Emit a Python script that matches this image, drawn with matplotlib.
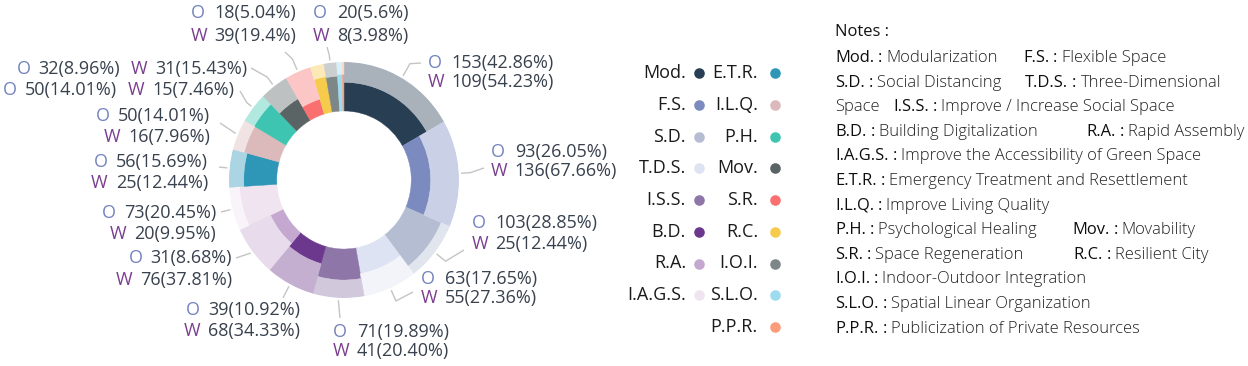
import numpy as np
import matplotlib
matplotlib.use("Agg")
import matplotlib.pyplot as plt
from matplotlib.colors import to_rgb

# ---------------- data ----------------
categories = ["Mod.", "F.S.", "S.D.", "T.D.S.", "I.S.S.", "B.D.", "R.A.", "I.A.G.S.",
              "E.T.R.", "I.L.Q.", "P.H.", "Mov.", "S.R.", "R.C.", "I.O.I.", "S.L.O.", "P.P.R."]
o_counts = [153, 93, 103, 63, 71, 39, 31, 73, 56, 50, 50, 32, 18, 22, 20, 9, 3]
w_counts = [109, 136, 25, 55, 41, 68, 76, 20, 25, 16, 15, 31, 39, 8, 8, 3, 1]
o_pct_text = ["42.86%", "26.05%", "28.85%", "17.65%", "19.89%", "10.92%", "8.68%", "20.45%",
              "15.69%", "14.01%", "14.01%", "8.96%", "5.04%", "", "5.6%", "", ""]
w_pct_text = ["54.23%", "67.66%", "12.44%", "27.36%", "20.40%", "34.33%", "37.81%", "9.95%",
              "12.44%", "7.96%", "7.46%", "15.43%", "19.4%", "", "3.98%", "", ""]
legend_col1 = categories[:8]
legend_col2 = categories[8:]
note_lines = [
    [("Mod.", "Modularization"), ("F.S.", "Flexible Space")],
    [("S.D.", "Social Distancing"), ("T.D.S.", "Three-Dimensional")],
    [("", "Space"), ("I.S.S.", "Improve / Increase Social Space")],
    [("B.D.", "Building Digitalization"), ("R.A.", "Rapid Assembly")],
    [("I.A.G.S.", "Improve the Accessibility of Green Space")],
    [("E.T.R.", "Emergency Treatment and Resettlement")],
    [("I.L.Q.", "Improve Living Quality")],
    [("P.H.", "Psychological Healing"), ("Mov.", "Movability")],
    [("S.R.", "Space Regeneration"), ("R.C.", "Resilient City")],
    [("I.O.I.", "Indoor-Outdoor Integration")],
    [("S.L.O.", "Spatial Linear Organization")],
    [("P.P.R.", "Publicization of Private Resources")],
]

# ---------------- styles ----------------
inner_colors = ["#283e53", "#7b8bc0", "#b5bdd2", "#dee3f3", "#8f76a8", "#6b388d", "#c5a8d0",
                "#efe4f0", "#2e97b8", "#dcb9ba", "#3dc5b1", "#5b6465", "#fa7070", "#f6cb4c",
                "#7e8788", "#9ddcf0", "#fb9c7a"]
outer_colors = [tuple(0.4 * np.array(to_rgb(c)) + 0.6) for c in inner_colors]
FONT = ["Open Sans", "DejaVu Sans"]
O_COL, W_COL, NUM_COL = "#7382bd", "#7a3d8f", "#38414e"
LEAD_COL = "#c4c4c4"
LBL_SIZE = 13

W_PX, H_PX = 1248, 366
fig = plt.figure(figsize=(W_PX / 100, H_PX / 100), dpi=100)

# donut geometry (pixels)
CX, CY, RX, RY = 344, 180, 115, 118
HOLE = 0.585

ax_p = fig.add_axes([(CX - RX) / W_PX, 1 - (CY + RY) / H_PX, 2 * RX / W_PX, 2 * RY / H_PX],
                    projection="polar")
ax_p.set_aspect("auto")
ax_p.set_theta_zero_location("N")
ax_p.set_theta_direction(-1)

o = np.array(o_counts, float)
w = np.array(w_counts, float)
tot = o + w
ang = tot / tot.sum() * 2 * np.pi
start = np.concatenate([[0], np.cumsum(ang)[:-1]])
mid = start + ang / 2
h_in = (1 - HOLE) * o / tot
h_out = (1 - HOLE) - h_in

ax_p.bar(start, h_in, width=ang, bottom=HOLE, align="edge", color=inner_colors,
         edgecolor=inner_colors, linewidth=0.3)
ax_p.bar(start, h_out, width=ang, bottom=HOLE + h_in, align="edge", color=outer_colors,
         edgecolor=outer_colors, linewidth=0.3)
ax_p.set_ylim(0, 1)
ax_p.set_axis_off()

# overlay axes in pixel units
ax_ov = fig.add_axes([0, 0, 1, 1], zorder=5)
ax_ov.set_xlim(0, W_PX)
ax_ov.set_ylim(H_PX, 0)
ax_ov.axis("off")
ax_ov.patch.set_alpha(0)

renderer = fig.canvas.get_renderer()


def polar_to_px(theta, r):
    d = ax_p.transData.transform((theta, r))
    return ax_ov.transData.inverted().transform(d)


def tw(t):
    return t.get_window_extent(renderer).width


def txt(x, y, s, color, size, ha="left", weight="normal"):
    return ax_ov.text(x, y, s, color=color, fontsize=size, ha=ha, va="center",
                      family=FONT, fontweight=weight)


# ---------------- labels ----------------
label_layout = {
    "Mod.":     dict(ha="left",  x=428, ys=(63, 82),   end=(421, 63),  ext=0.12),
    "F.S.":     dict(ha="left",  x=491, ys=(152, 171), end=(484, 168), ext=0.08),
    "S.D.":     dict(ha="left",  x=472, ys=(223, 244), end=(464, 250), ext=0.10),
    "T.D.S.":   dict(ha="left",  x=421, ys=(279, 298), end=(413, 292), ext=0.10),
    "I.S.S.":   dict(ha="left",  x=333, ys=(332, 351), end=(340, 318), ext=0.0),
    "B.D.":     dict(ha="right", x=300, ys=(310, 331), end=(283, 298), ext=0.0),
    "R.A.":     dict(ha="right", x=232, ys=(258, 280), end=(236, 258), ext=0.0),
    "I.A.G.S.": dict(ha="right", x=216, ys=(213, 234), end=(221, 212), ext=0.0),
    "E.T.R.":   dict(ha="right", x=208, ys=(162, 183), end=(219, 167), ext=0.0),
    "I.L.Q.":   dict(ha="right", x=210, ys=(116, 137), end=(220, 123), ext=0.0),
    "P.H.":     dict(ha="right", x=234, ys=(90,),      end=(240, 91),  ext=0.05),
    "Mov.":     dict(ha="right", x=247, ys=(69,),      end=(251, 68),  ext=0.08),
    "S.R.":     dict(ha="left",  x=191, ys=(13, 36),   end=(285, 52),  ext=0.10),
    "I.O.I.":   dict(ha="left",  x=313, ys=(13, 36),   end=(327, 47),  ext=0.05),
}
GAP_LETTER = 8   # between O/W and its number
GAP_PAIR = 10    # between ")" and the next "W" on one-line labels

_m = txt(0, 0, "W", W_COL, LBL_SIZE)
w_letter_width = tw(_m)
_m.remove()

for i, cat in enumerate(categories):
    if cat not in label_layout or not o_pct_text[i]:
        continue
    L = label_layout[cat]
    # leader line
    p0 = polar_to_px(mid[i], 1.02)
    p1 = polar_to_px(mid[i], 1.02 + L["ext"])
    ax_ov.plot([p0[0], p1[0], L["end"][0]], [p0[1], p1[1], L["end"][1]],
               color=LEAD_COL, lw=1.0, solid_capstyle="butt")

    num_o = f"{o_counts[i]}({o_pct_text[i]})"
    num_w = f"{w_counts[i]}({w_pct_text[i]})"
    if len(L["ys"]) == 2:
        for (letter, col, num), y in zip([("O", O_COL, num_o), ("W", W_COL, num_w)], L["ys"]):
            if L["ha"] == "left":
                txt(L["x"], y, letter, col, LBL_SIZE)
                txt(L["x"] + w_letter_width + 7, y, num, NUM_COL, LBL_SIZE)
            else:
                t = txt(L["x"], y, num, NUM_COL, LBL_SIZE, ha="right")
                txt(L["x"] - tw(t) - GAP_LETTER, y, letter, col, LBL_SIZE, ha="right")
    else:
        y = L["ys"][0]
        xr = L["x"]
        t = txt(xr, y, num_w, NUM_COL, LBL_SIZE, ha="right")
        xr -= tw(t) + GAP_LETTER
        t = txt(xr, y, "W", W_COL, LBL_SIZE, ha="right")
        xr -= tw(t) + GAP_PAIR
        t = txt(xr, y, num_o, NUM_COL, LBL_SIZE, ha="right")
        xr -= tw(t) + GAP_LETTER
        txt(xr, y, "O", O_COL, LBL_SIZE, ha="right")

# ---------------- legend ----------------
LEG_Y0, LEG_DY = 73, 31.75
LEG_SIZE = 13
col_map = dict(zip(categories, inner_colors))
for names, tx, dx in [(legend_col1, 686, 699), (legend_col2, 758, 775)]:
    for j, nm in enumerate(names):
        y = LEG_Y0 + j * LEG_DY
        txt(tx, y, nm, "#1a1a1a", LEG_SIZE, ha="right")
        ax_ov.scatter([dx], [y], s=58, color=col_map[nm], linewidths=0, zorder=6)

# ---------------- notes ----------------
NOTE_SIZE = 11.9
NOTE_X = 835
txt(NOTE_X, 32, "Notes :", "#111111", NOTE_SIZE)
second_x = {"F.S.": 1023, "T.D.S.": 1025, "I.S.S.": 893, "R.A.": 1086, "Mov.": 1072, "R.C.": 1073}
NOTE_Y0, NOTE_DY = 58, 24.6
for k, line in enumerate(note_lines):
    y = NOTE_Y0 + k * NOTE_DY
    x = NOTE_X
    for abbr, desc in line:
        if abbr in second_x:
            x = second_x[abbr]
        if abbr:
            t = txt(x, y, abbr, "#0d0d0d", NOTE_SIZE, weight="medium")
            x += tw(t) + 4
            t = txt(x, y, ":", "#0d0d0d", NOTE_SIZE)
            x += tw(t) + 4
        t = txt(x, y, desc, "#222222", NOTE_SIZE, weight="light")
        x += tw(t) + 12

fig.savefig("out.png", dpi=100)
